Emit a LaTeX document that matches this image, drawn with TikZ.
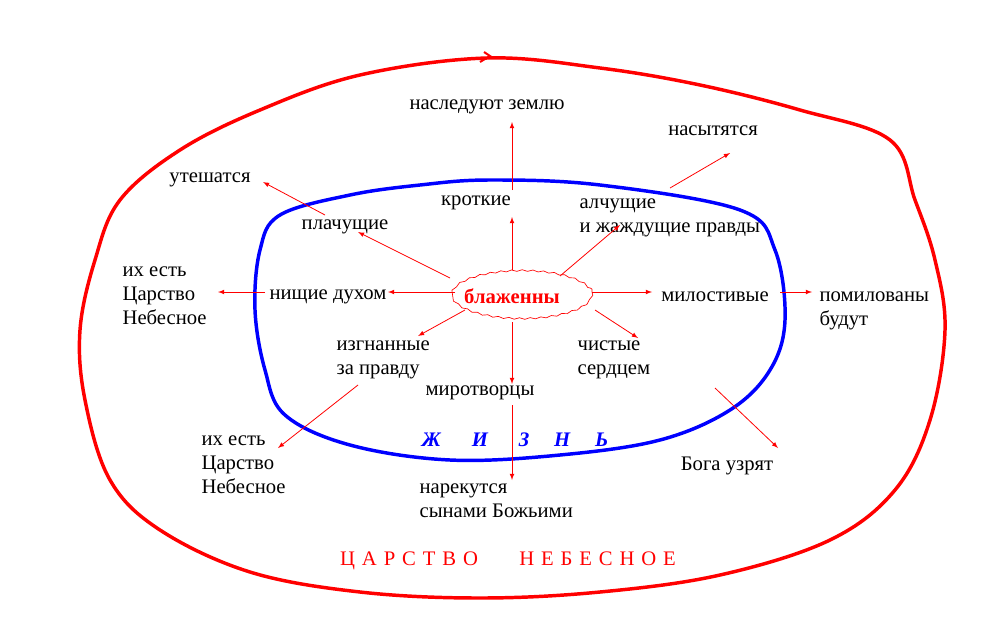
\documentclass[tikz,border=0pt]{standalone}
\usepackage{fontspec}
\setmainfont{Liberation Serif}
\usetikzlibrary{decorations.pathmorphing}
\begin{document}
\begin{tikzpicture}[x=0.75pt,y=-0.75pt,
  lbl/.style={font=\fontsize{15.5}{18}\selectfont,inner sep=1pt},
  ll/.style={lbl,align=left,anchor=north west},
  arr/.style={red,-latex,line width=0.6pt}]
\useasboundingbox (0,0) rectangle (1005,639);
% outer red loop
\draw[red,line width=2.6pt,line join=round] plot[smooth cycle,tension=0.6] coordinates{
(487,58)(600,68)(700,85)(800,110)(890,140)(915,200)(935,260)(945,330)(930,420)(895,490)(830,540)(720,575)(600,592)(480,598)(360,592)(250,572)(160,530)(110,480)(85,400)(80,330)(95,260)(120,200)(180,150)(260,110)(360,75)};
\draw[red,line width=1.5pt] (480,62)--(490,56)--(484,52);
% inner blue loop
\draw[blue,line width=2.6pt,line join=round] plot[smooth cycle,tension=0.6] coordinates{
(490,180)(600,185)(740,210)(775,250)(785,320)(770,370)(730,410)(660,440)(560,455)(450,460)(350,445)(285,415)(265,370)(255,310)(260,250)(280,215)(350,195)(420,185)};
% center
\node[red,font=\fontsize{15.5}{18}\selectfont\bfseries] (c) at (512,296) {блаженны};
\draw[red,line width=0.5pt,decorate,decoration={snake,amplitude=0.6pt,segment length=8pt}] (522,292) ellipse [x radius=70,y radius=24];
% inner labels
\node[lbl] (kr) at (476,203) {кроткие};
\node[lbl] (pl) at (345,227) {плачущие};
\node[ll] (al) at (578,197) {алчущие\\ и жаждущие правды};
\node[lbl] (ni) at (328,297) {нищие духом};
\node[lbl] (mi) at (715,297) {милостивые};
\node[ll] (iz) at (335,339) {изгнанные\\за правду};
\node[ll] (ch) at (576,339) {чистые\\сердцем};
\node[lbl] (mr) at (480,393) {миротворцы};
% outer labels
\node[lbl] (na) at (487,107) {наследуют землю};
\node[lbl] (ns) at (713,131) {насытятся};
\node[lbl] (ut) at (210,180) {утешатся};
\node[ll] (ie1) at (121,265) {их есть\\Царство\\Небесное};
\node[ll] (po) at (818,290) {помилованы\\ будут};
\node[ll] (ie2) at (200,434) {их есть\\Царство\\Небесное};
\node[lbl] (bo) at (727,466) {Бога узрят};
\node[ll] (nr) at (418,482) {нарекутся\\ сынами Божьими};
\node[blue,font=\fontsize{15.5}{18}\selectfont\bfseries\itshape] (zh) at (515,440) {Ж\hspace{1.5em}И\hspace{1.5em}З\hspace{1.2em}Н\hspace{1.2em}Ь};
\node[red,font=\fontsize{15.5}{18}\selectfont] (ct) at (508,561) {Ц\,\,А\,\,Р\,\,С\,\,Т\,\,В\,\,О\hspace{2em}Н\,\,Е\,\,Б\,\,Е\,\,С\,\,Н\,\,О\,\,Е};
% arrows
\draw[arr] (512,270)--(512,217);
\draw[arr] (512,190)--(512,122);
\draw[arr] (450,278)--(358,232);
\draw[arr] (325,215)--(263,182);
\draw[arr] (560,276)--(620,225);
\draw[arr] (670,188)--(730,153);
\draw[arr] (455,292)--(388,292);
\draw[arr] (265,292)--(218,292);
\draw[arr] (592,292)--(652,292);
\draw[arr] (780,292)--(812,292);
\draw[arr] (465,310)--(418,336);
\draw[arr] (358,385)--(278,448);
\draw[arr] (595,310)--(638,338);
\draw[arr] (715,388)--(778,448);
\draw[arr] (512,322)--(512,384);
\draw[arr] (512,405)--(512,480);
\end{tikzpicture}
\end{document}
